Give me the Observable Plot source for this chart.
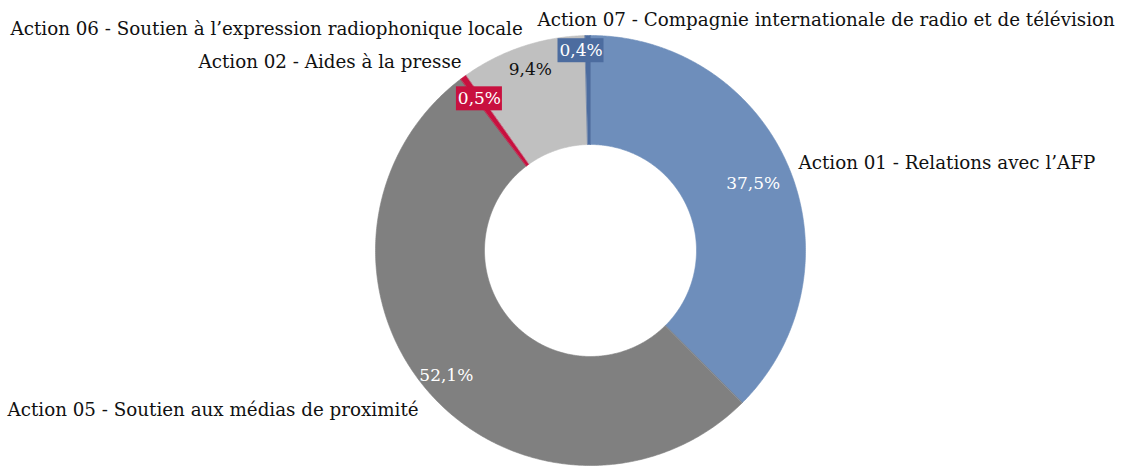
<!DOCTYPE html>
<html><head><meta charset="utf-8">
<script src="https://cdn.jsdelivr.net/npm/d3@7"></script>
<script src="https://cdn.jsdelivr.net/npm/@observablehq/plot@0.6"></script>
<style>html,body{margin:0;padding:0;background:#fff;overflow:hidden} svg{display:block}</style>
</head><body><div id="chart"></div>
<script>
// ---- data ----
const categories = [
  "Action 01 - Relations avec l\u2019AFP",
  "Action 05 - Soutien aux médias de proximité",
  "Action 02 - Aides à la presse",
  "Action 06 - Soutien à l\u2019expression radiophonique locale",
  "Action 07 - Compagnie internationale de radio et de télévision"
];
const values = [37.5, 52.1, 0.5, 9.4, 0.4];
const valueLabels = ["37,5%", "52,1%", "0,5%", "9,4%", "0,4%"];

// ---- styles / layout ----
const colors = ["#6E8EBB", "#808080", "#C8103F", "#C0C0C0", "#4C6C9F"];
const labelColors = ["#ffffff", "#ffffff", "#ffffff", "#111111", "#ffffff"];
const boxed = [false, false, true, false, true];
const labelRadius = [176, 191, 188, 191, 200];
const labelAngleShift = [0, 0, 0, 0, -2];
const catPos = [
  {x: 798, y: 163}, {x: 7, y: 410}, {x: 198, y: 62}, {x: 10, y: 29}, {x: 537, y: 20}
];
const W = 1123, H = 466, cx = 590, cy = 250, R = 215, r0 = 106;
const FONT = "'Palatino Linotype','Book Antiqua',Palatino,'DejaVu Serif',serif";

const total = d3.sum(values);
const deg = Math.PI / 180;
const pt = (a, rad) => [cx + rad * Math.sin(a), cy - rad * Math.cos(a)];

// build slice polygons from the values
const slices = [];
let acc = 0;
const arcs = values.map((v, i) => {
  const a0 = acc / total * 2 * Math.PI;
  acc += v;
  const a1 = acc / total * 2 * Math.PI;
  return {i, a0, a1, mid: (a0 + a1) / 2};
});
for (const {i, a0, a1} of arcs) {
  const n = Math.max(2, Math.ceil((a1 - a0) / (0.5 * deg)));
  for (let k = 0; k <= n; k++) {
    const a = a0 + (a1 - a0) * k / n;
    const [x, y] = pt(a, R);
    slices.push({key: i, x, y, color: colors[i]});
  }
  for (let k = n; k >= 0; k--) {
    const a = a0 + (a1 - a0) * k / n;
    const [x, y] = pt(a, r0);
    slices.push({key: i, x, y, color: colors[i]});
  }
}

const pctLabels = arcs.map(({i, mid}) => {
  const [x, y] = pt(mid + labelAngleShift[i] * deg, labelRadius[i]);
  return {x, y, text: valueLabels[i], fill: labelColors[i], box: boxed[i], color: colors[i]};
});
const boxes = pctLabels.filter(d => d.box).map(d => ({
  x1: d.x - 23, x2: d.x + 23, y1: d.y - 12, y2: d.y + 12, color: d.color
}));
const catLabels = categories.map((c, i) => ({x: catPos[i].x, y: catPos[i].y, text: c}));

const chart = Plot.plot({
  width: W, height: H,
  margin: 0,
  x: {domain: [0, W], range: [0, W], axis: null},
  y: {domain: [0, H], range: [0, H], axis: null},
  color: {type: "identity"},
  style: {fontFamily: FONT, background: "#fff"},
  marks: [
    Plot.line(slices, {x: "x", y: "y", z: "key", fill: "color", stroke: "color", strokeWidth: 0.6, curve: "linear-closed"}),
    Plot.rect(boxes, {x1: "x1", x2: "x2", y1: "y1", y2: "y2", fill: "color"}),
    Plot.text(pctLabels, {x: "x", y: "y", text: "text", fill: "fill", fontSize: 17, fontFamily: FONT}),
    Plot.text(catLabels, {x: "x", y: "y", text: "text", fill: "#111", fontSize: 18.3, textAnchor: "start", fontFamily: FONT})
  ]
});
document.getElementById("chart").appendChild(chart);
</script>
</body></html>
